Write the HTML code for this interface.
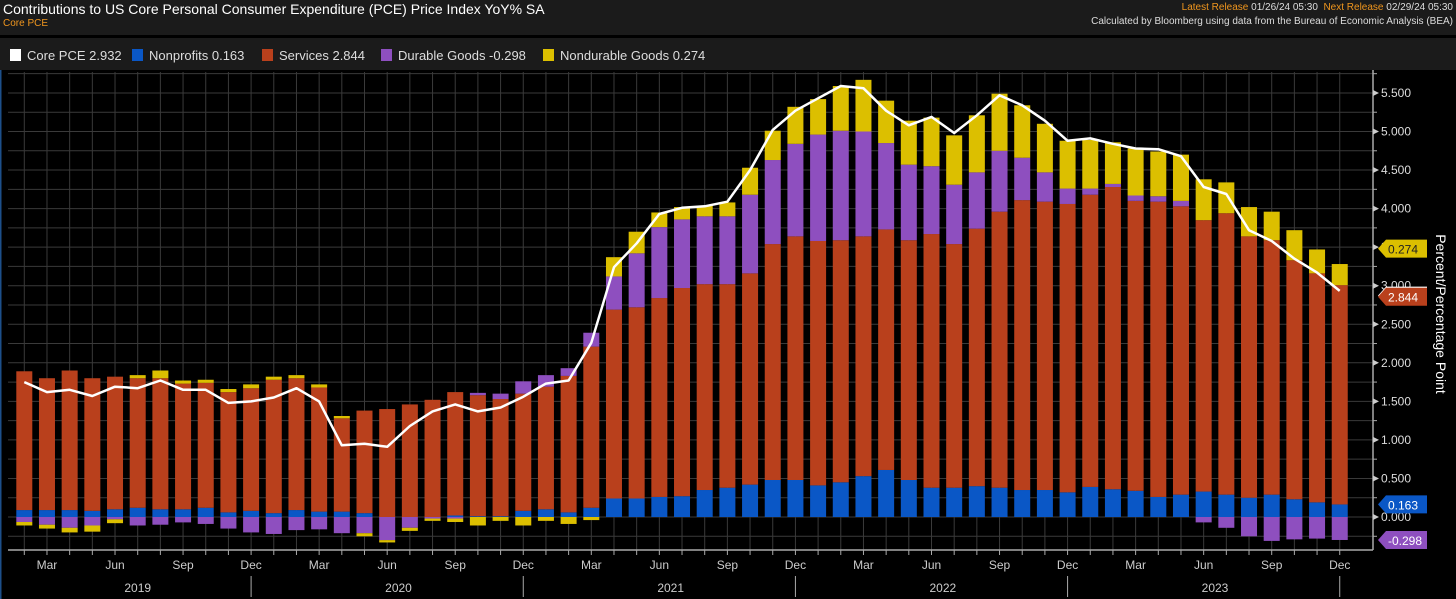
<!DOCTYPE html>
<html><head><meta charset="utf-8"><style>
html,body{margin:0;padding:0;background:#000;}
body{width:1456px;height:599px;overflow:hidden;position:relative;font-family:"Liberation Sans",sans-serif;}
.hdr{position:absolute;left:0;top:0;width:1456px;height:35px;background:#1b1b1b;}
.leg{position:absolute;left:0;top:38px;width:1456px;height:32px;background:#1b1b1b;}
</style></head><body>
<div class="hdr">
 <div style="position:absolute;left:3px;top:1px;color:#fff;font-size:14px;">Contributions to US Core Personal Consumer Expenditure (PCE) Price Index YoY% SA</div>
 <div style="position:absolute;left:3px;top:18px;color:#f0961e;font-size:10px;">Core PCE</div>
 <div style="position:absolute;right:3px;top:2px;font-size:10px;color:#ddd;"><span style="color:#f0961e">Latest Release</span> 01/26/24 05:30 &nbsp;<span style="color:#f0961e">Next Release</span> 02/29/24 05:30</div>
 <div style="position:absolute;right:3px;top:16px;font-size:10px;color:#ddd;">Calculated by Bloomberg using data from the Bureau of Economic Analysis (BEA)</div>
</div>
<div class="leg"></div>
<svg id="chart" width="1456" height="599" style="position:absolute;left:0;top:0"></svg>
<script>
const months=["Feb","Mar","Apr","May","Jun","Jul","Aug","Sep","Oct","Nov","Dec","Jan","Feb","Mar","Apr","May","Jun","Jul","Aug","Sep","Oct","Nov","Dec","Jan","Feb","Mar","Apr","May","Jun","Jul","Aug","Sep","Oct","Nov","Dec","Jan","Feb","Mar","Apr","May","Jun","Jul","Aug","Sep","Oct","Nov","Dec","Jan","Feb","Mar","Apr","May","Jun","Jul","Aug","Sep","Oct","Nov","Dec"];
const years=["2019","2020","2021","2022","2023"];
const nonprofits=[.09,.09,.09,.08,.10,.12,.10,.10,.12,.06,.08,.05,.09,.07,.07,.05,0,0,0,.02,.01,.01,.08,.10,.06,.12,.24,.24,.26,.27,.35,.38,.42,.48,.48,.41,.45,.53,.61,.48,.38,.38,.40,.38,.35,.35,.32,.39,.36,.34,.26,.29,.33,.29,.25,.29,.23,.19,.163];
const services=[1.80,1.71,1.81,1.72,1.72,1.68,1.70,1.63,1.62,1.56,1.59,1.73,1.71,1.61,1.21,1.33,1.40,1.46,1.52,1.60,1.57,1.52,1.52,1.59,1.77,2.09,2.45,2.48,2.58,2.70,2.67,2.64,2.74,3.06,3.16,3.17,3.14,3.11,3.12,3.11,3.29,3.16,3.34,3.58,3.76,3.74,3.74,3.79,3.92,3.76,3.83,3.74,3.52,3.65,3.39,3.30,3.10,2.97,2.844];
const durable=[-.065,-.10,-.14,-.11,-.03,-.11,-.10,-.07,-.09,-.15,-.20,-.22,-.17,-.16,-.21,-.21,-.30,-.14,-.02,-.02,.03,.07,.16,.15,.10,.18,.43,.70,.92,.89,.88,.88,1.02,1.09,1.20,1.38,1.42,1.36,1.12,.98,.88,.77,.73,.79,.55,.38,.20,.08,.04,.07,.07,.07,-.07,-.14,-.25,-.31,-.29,-.28,-.298];
const nondurable=[-.045,-.05,-.06,-.08,-.05,.04,.10,.04,.04,.04,.05,.04,.04,.04,.03,-.04,-.03,-.04,-.03,-.045,-.11,-.05,-.11,-.05,-.09,-.04,.25,.28,.19,.16,.14,.18,.35,.38,.48,.46,.58,.67,.55,.57,.63,.64,.74,.74,.68,.63,.62,.63,.54,.61,.58,.60,.53,.40,.38,.37,.39,.31,.274];
const corePce=[1.75,1.62,1.65,1.57,1.69,1.67,1.77,1.65,1.65,1.48,1.50,1.55,1.67,1.50,0.93,0.95,0.91,1.18,1.37,1.46,1.37,1.42,1.56,1.73,1.77,2.26,3.24,3.55,3.93,4.01,4.03,4.09,4.50,5.02,5.27,5.43,5.59,5.56,5.27,5.08,5.19,4.98,5.21,5.47,5.34,5.14,4.88,4.91,4.84,4.78,4.77,4.68,4.28,4.19,3.72,3.58,3.35,3.17,2.932];
const yTicks=[0,0.5,1,1.5,2,2.5,3,3.5,4,4.5,5,5.5];
const legendNames=["Core PCE","Nonprofits","Services","Durable Goods","Nondurable Goods"];
const legendVals=["2.932","0.163","2.844","-0.298","0.274"];

const C={np:"#0a57c6",sv:"#b9401c",du:"#8e4fbf",nd:"#dcbf00",core:"#ffffff"};
const svg=document.getElementById('chart');const NS="http://www.w3.org/2000/svg";
function el(t,a,p){const e=document.createElementNS(NS,t);for(const k in a)e.setAttribute(k,a[k]);(p||svg).appendChild(e);return e;}
const X0=24.3,DX=22.68,Y0=517,PY=77.1,PL=8,PR=1373,PT=72,PB=550,BW=16;
const xs=i=>X0+i*DX, ys=v=>Y0-v*PY;
// grid
const g=el('g',{});


for(let v=-0.25;v<=5.75;v+=0.25){el('line',{x1:PL,x2:PR,y1:ys(v),y2:ys(v),stroke:"#3a3a3a","stroke-width":1},g);}
for(let i=0;i<months.length;i++){el('line',{x1:xs(i),x2:xs(i),y1:PT,y2:PB,stroke:"#3a3a3a","stroke-width":1},g);}
el('line',{x1:0,x2:0,y1:70,y2:599,stroke:"#1d4f8a","stroke-width":3});
// bars
for(let i=0;i<months.length;i++){
 const segs=[[nonprofits[i],C.np,'nonprofits'],[services[i],C.sv,'services'],[durable[i],C.du,'durable'],[nondurable[i],C.nd,'nondurable']];
 let pos=0,neg=0;
 for(const [v,c,n] of segs){
  let a,b;
  if(v>=0){a=pos;b=pos+v;pos=b;}else{a=neg;b=neg+v;neg=b;}
  const r=el('rect',{x:xs(i)-BW/2,width:BW,y:ys(Math.max(a,b)),height:Math.abs(ys(a)-ys(b)),fill:c});
  
  
 }
}
// line
let d="";corePce.forEach((v,i)=>{d+=(i?"L":"M")+xs(i).toFixed(1)+","+ys(v).toFixed(1);});
const ln=el('path',{d:d,fill:"none",stroke:C.core,"stroke-width":2.5,"stroke-linejoin":"round"});


// axes
el('line',{x1:PL,x2:PR,y1:PB,y2:PB,stroke:"#aaa","stroke-width":1.5});
el('line',{x1:PR,x2:PR,y1:70,y2:PB,stroke:"#aaa","stroke-width":1.5});
for(let v=-0.25;v<=5.75;v+=0.25){el('line',{x1:PR,x2:PR+(Math.abs(v*2-Math.round(v*2))<0.01?0:4),y1:ys(v),y2:ys(v),stroke:"#aaa"});}
yTicks.forEach(v=>{
 el('path',{d:`M${PR} ${ys(v)-3}L${PR+6} ${ys(v)}L${PR} ${ys(v)+3}Z`,fill:"#ccc"});
 const t=el('text',{x:PR+8,y:ys(v)+4,fill:"#ddd","font-size":12});t.textContent=v.toFixed(3);
 
 
});
const yt=el('text',{x:1436,y:314,fill:"#fff","font-size":14,transform:"rotate(90 1436 314)","text-anchor":"middle"});
yt.textContent="Percent/Percentage Point";


for(let i=0;i<months.length;i++){
 el('line',{x1:xs(i),x2:xs(i),y1:PB,y2:PB+5,stroke:"#aaa"});
 if(["Mar","Jun","Sep","Dec"].includes(months[i])){
  const t=el('text',{x:xs(i),y:569,fill:"#ccc","font-size":12,"text-anchor":"middle"});t.textContent=months[i];
  
  
 }
 if(months[i]==="Dec"&&i<months.length-1)el('line',{x1:xs(i),x2:xs(i),y1:576,y2:597,stroke:"#aaa"});
}
el('line',{x1:xs(months.length-1),x2:xs(months.length-1),y1:576,y2:597,stroke:"#aaa"});
years.forEach((y,k)=>{
 const s=k===0?0:11+(k-1)*12, e=Math.min(s+(k===0?10:11),months.length-1);
 const t=el('text',{x:(xs(s)+xs(e))/2,y:592,fill:"#ccc","font-size":12,"text-anchor":"middle"});t.textContent=y;
 
 
});
// right value tags
const last=months.length-1;
function tag(v,txt,bg,fg,name){
 const y=ys(v);
 el('path',{d:`M1378 ${y}L1386 ${y-9}L1427 ${y-9}L1427 ${y+9}L1386 ${y+9}Z`,fill:bg});
 const t=el('text',{x:1388,y:y+5,fill:fg,"font-size":12});t.textContent=txt;
 
 
}
tag(corePce[last]-0.06,corePce[last].toFixed(3),"#fff","#000",'core-pce-tag');
tag(nonprofits[last]+services[last]+nondurable[last]+0.2,nondurable[last].toFixed(3),C.nd,"#222",'nondurable-tag');
tag(nonprofits[last]+services[last]-0.15,services[last].toFixed(3),C.sv,"#fff",'services-tag');
tag(nonprofits[last],nonprofits[last].toFixed(3),C.np,"#fff",'nonprofits-tag');
tag(durable[last],durable[last].toFixed(3),C.du,"#fff",'durable-tag');
// legend
const lc=[C.core,C.np,C.sv,C.du,C.nd];const lx=[10,132,262,381,543];
legendNames.forEach((n,k)=>{
 const r=el('rect',{x:lx[k],y:49,width:11,height:12,fill:lc[k]});
 
 
 const t=el('text',{x:lx[k]+17,y:60,fill:"#ddd","font-size":13});t.textContent=n+"  "+legendVals[k];
 t.setAttribute('xml:space','preserve');
 
 
});
</script>
</body></html>
